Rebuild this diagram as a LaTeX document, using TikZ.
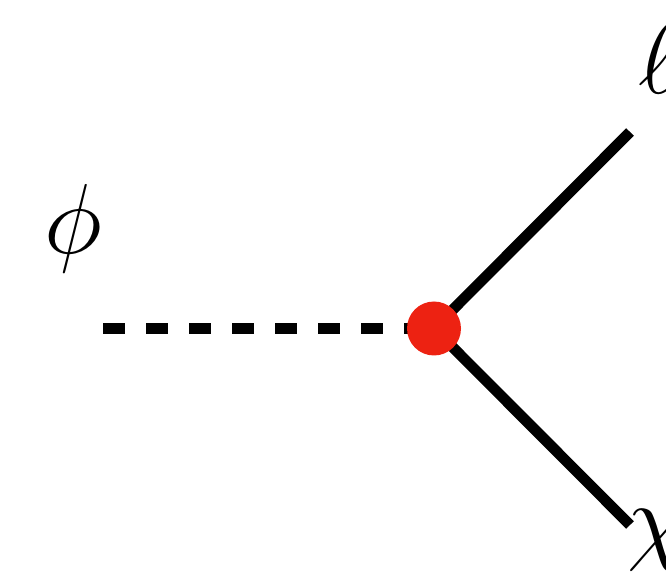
\documentclass[tikz,border=0pt]{standalone}
\usepackage{amsmath}
\usepackage{tikz}
\usetikzlibrary{positioning}
\definecolor{vtxred}{RGB}{237,34,18}

\begin{document}
\begin{tikzpicture}[
        x=0.5pt, y=-0.5pt,
        scalar/.style={line width=5.35pt, dash pattern=on 11pt off 10.5pt},
        fermion/.style={line width=5.35pt},
        vertex/.style={circle, fill=vtxred, inner sep=0pt, minimum size=27pt},
        lbl/.style={inner sep=0pt, font=\Huge, scale=2}
    ]
        \useasboundingbox (0,0) rectangle (666,583);

        % Vertex and outer ends
        \coordinate (vc) at (434,328.5);
        \coordinate (phi_end) at (103,328.5);
        \coordinate (ell_end) at (630,132);
        \coordinate (chi_end) at (630,525);

        % Propagators
        \draw[scalar] (phi_end) -- (vc);
        \draw[fermion] (vc) -- (ell_end);
        \draw[fermion] (vc) -- (chi_end);

        % Interaction point
        \node[vertex] (v) at (vc) {};

        % Labels
        \node[lbl] (phi) at (73,228.5) {$\phi$};
        \node[lbl, anchor=north west] (ell) at (638,24) {$\ell$};
        \node[lbl, anchor=north west] (chi) at (627,509) {$\chi$};
    \end{tikzpicture}
\end{document}
